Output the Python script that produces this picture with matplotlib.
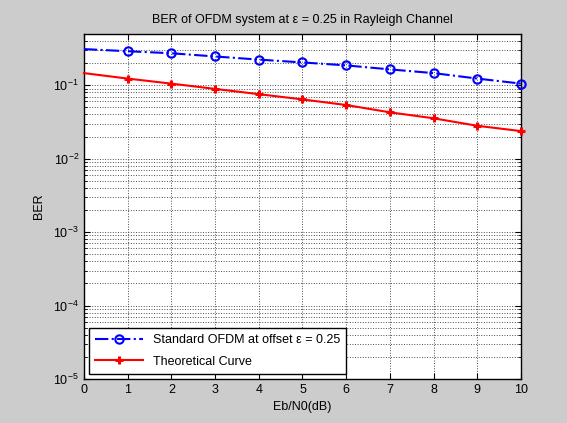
import numpy as np
import matplotlib.pyplot as plt
from matplotlib.ticker import LogLocator, NullFormatter

plt.rcParams['font.family'] = ['Liberation Sans', 'DejaVu Sans']
plt.rcParams['mathtext.fontset'] = 'custom'
plt.rcParams['mathtext.rm'] = 'Liberation Sans'

# Eb/N0 sweep and BER results
ebn0 = np.arange(0, 11)
ber_offset = [0.31, 0.29, 0.272, 0.246, 0.223, 0.204, 0.186, 0.164, 0.146, 0.123, 0.105]
ber_theory = [0.146, 0.123, 0.105, 0.089, 0.0755, 0.064, 0.0537, 0.0427, 0.0354, 0.028, 0.0237]

fig = plt.figure(figsize=(5.67, 4.23), dpi=100, facecolor='#cccccc')
ax = fig.add_axes([0.148, 0.104, 0.771, 0.816])

marks = list(range(1, 11))
ax.semilogy(ebn0, ber_offset, 'b-.o', lw=1.5, ms=6, mew=1.5, mfc='none',
            markevery=marks, clip_on=False, zorder=3,
            label='Standard OFDM at offset \u03b5 = 0.25')
ax.semilogy(ebn0, ber_theory, 'r-+', lw=1.5, ms=6, mew=2.2,
            markevery=marks, clip_on=False, zorder=3,
            label='Theoretical Curve')

ax.set_xlim(0, 10)
ax.set_ylim(1e-5, 0.5)
ax.set_xticks(range(11))
ax.yaxis.set_major_locator(LogLocator(base=10, numticks=10))
ax.yaxis.set_minor_locator(LogLocator(base=10, subs=np.arange(2, 10), numticks=20))
ax.yaxis.set_minor_formatter(NullFormatter())

ax.grid(True, which='major', color='0.3', ls=':', lw=0.7)
ax.grid(True, which='minor', axis='y', color='0.3', ls=':', lw=0.7)
ax.tick_params(which='both', direction='in', top=True, right=True, labelsize=9)
ax.tick_params(which='major', length=4)
ax.tick_params(which='minor', length=2)
for s in ax.spines.values():
    s.set_linewidth(1.0)

ax.set_title('BER of OFDM system at \u03b5 = 0.25 in Rayleigh Channel', fontsize=9, pad=8)
ax.set_xlabel('Eb/N0(dB)', fontsize=9)
ax.set_ylabel('BER', fontsize=9, labelpad=6)

leg = ax.legend(loc='lower left', fontsize=9, fancybox=False, framealpha=1,
                edgecolor='black', borderaxespad=0.4, handlelength=3.8,
                borderpad=0.5, labelspacing=0.75)
leg.get_frame().set_linewidth(1.0)
leg.set_zorder(5)

fig.savefig('out.png', dpi=100, facecolor=fig.get_facecolor())
